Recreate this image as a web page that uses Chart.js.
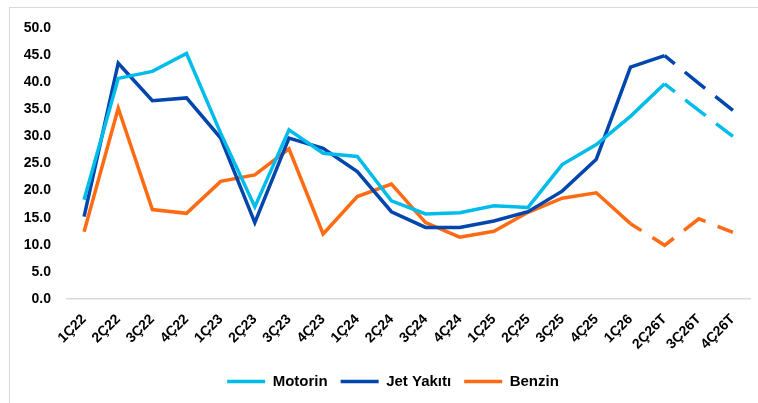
<!DOCTYPE html>
<html>
<head>
<meta charset="utf-8">
<script src="https://cdn.jsdelivr.net/npm/chart.js@4/dist/chart.umd.min.js"></script>
<style>
    body { margin: 0; background: #fff; }
    .wrap { position: relative; width: 758px; height: 403px; overflow: hidden; }
    .frame { position: absolute; left: 9px; top: 7px; width: 800px; height: 500px; border: 1px solid #d9d9d9; }
    canvas { position: absolute; left: 0; top: 0; }
</style>
</head>
<body>
<div class="wrap">
    <div class="frame"></div>
    <canvas id="myChart" width="758" height="403"></canvas>
</div>
<script>
const quarters = ['1Ç22', '2Ç22', '3Ç22', '4Ç22', '1Ç23', '2Ç23', '3Ç23', '4Ç23', '1Ç24', '2Ç24',
                  '3Ç24', '4Ç24', '1Ç25', '2Ç25', '3Ç25', '4Ç25', '1Ç26', '2Ç26T', '3Ç26T', '4Ç26T'];
const motorin = [18.3, 40.7, 42.0, 45.3, 30.6, 17.0, 31.2, 26.9, 26.3, 18.1,
                 15.7, 15.9, 17.2, 16.9, 24.8, 28.5, 33.7, 39.7, 34.8, 30.0];
const jetYakiti = [15.2, 43.5, 36.6, 37.1, 29.7, 14.1, 29.7, 27.8, 23.5, 16.1,
                   13.2, 13.2, 14.4, 16.1, 19.9, 25.8, 42.8, 44.9, 39.8, 34.8];
const benzin = [12.4, 35.2, 16.5, 15.8, 21.7, 22.9, 27.7, 12.0, 18.9, 21.2,
                14.1, 11.4, 12.5, 16.0, 18.6, 19.6, 13.9, 9.9, 14.8, 12.3];
const seriesNames = ['Motorin', 'Jet Yakıtı', 'Benzin'];
const yMin = 0, yMax = 50, yStep = 5;

let ctx;
let myChart;

// dashed from this point index on (forecast part)
function dashFrom(idx) {
    return {
        borderDash: c => c.p0DataIndex >= idx ? [26, 13] : undefined,
        borderDashOffset: c => c.p0DataIndex >= idx ? 13 : undefined
    };
}

function line(label, data, color, idx) {
    return {
        label: label,
        data: data,
        borderColor: color,
        backgroundColor: color,
        borderWidth: 3.5,
        pointRadius: 0,
        tension: 0,
        fill: false,
        segment: dashFrom(idx)
    };
}

// legend sits a bit right of the canvas centre in the original
const legendShift = {
    id: 'legendShift',
    afterLayout(chart) {
        chart.legend.left += 18;
        chart.legend.right += 18;
    }
};

function draw() {
    ctx = document.getElementById('myChart').getContext('2d');
    myChart = new Chart(ctx, {
        type: 'line',
        data: {
            labels: quarters,
            datasets: [
                line(seriesNames[0], motorin, '#00BCEB', 17),
                line(seriesNames[1], jetYakiti, '#0046AD', 17),
                line(seriesNames[2], benzin, '#FF6B12', 16)
            ]
        },
        options: {
            responsive: false,
            animation: false,
            layout: {
                padding: { top: 28, right: 8, bottom: 4, left: 0 }
            },
            plugins: {
                tooltip: { enabled: false },
                legend: {
                    position: 'bottom',
                    labels: {
                        usePointStyle: true,
                        pointStyle: 'line',
                        pointStyleWidth: 38,
                        padding: 13,
                        color: '#000',
                        font: { family: 'Liberation Sans', size: 15, weight: 'bold' }
                    }
                }
            },
            scales: {
                x: {
                    offset: true,
                    grid: { display: false, drawTicks: false },
                    border: { display: true, color: '#d9d9d9', width: 1.5 },
                    ticks: {
                        autoSkip: false,
                        minRotation: 45,
                        maxRotation: 45,
                        padding: 12,
                        color: '#000',
                        font: { family: 'Liberation Sans', size: 14, weight: 'bold' }
                    },
                    afterFit: s => { s.height = 62; }
                },
                y: {
                    min: yMin,
                    max: yMax,
                    grid: { display: false, drawTicks: false },
                    border: { display: false },
                    ticks: {
                        stepSize: yStep,
                        padding: 16,
                        color: '#000',
                        font: { family: 'Liberation Sans', size: 14, weight: 'bold' },
                        callback: v => v.toFixed(1)
                    },
                    afterFit: s => { s.width = 67; }
                }
            }
        },
        plugins: [legendShift]
    });
}

document.addEventListener('DOMContentLoaded', function(){
    draw();
});
</script>
</body>
</html>
